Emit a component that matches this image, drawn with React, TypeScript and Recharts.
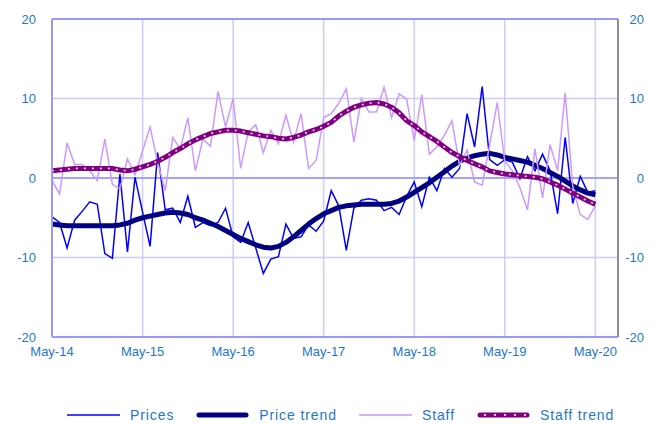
import {
  CartesianGrid,
  Line,
  LineChart,
  ReferenceLine,
  XAxis,
  YAxis,
} from "recharts";

// monthly, May-14 .. May-20 (index 0 = May-14)
const xTicks = [0, 12, 24, 36, 48, 60, 72];
const xTickLabels = ["May-14", "May-15", "May-16", "May-17", "May-18", "May-19", "May-20"];
const yTicks = [-20, -10, 0, 10, 20];

const prices = [
  -4.9, -5.6, -8.8, -5.3, -4.2, -3.0, -3.3, -9.5, -10.1, 0.5, -9.3, 0.1,
  -4.3, -8.6, 3.2, -4.0, -3.8, -5.6, -2.3, -6.2, -5.6, -6.0, -5.6, -3.8,
  -7.4, -8.1, -5.6, -8.8, -12.0, -10.2, -9.9, -5.8, -7.6, -7.4, -5.9, -6.7,
  -5.4, -1.6, -3.5, -9.1, -3.8, -2.8, -2.6, -2.8, -4.1, -3.7, -4.6, -2.3,
  -0.5, -3.6, 0.1, -1.6, 1.2, 0.1, 1.2, 8.1, 3.9, 11.5, 2.3, 1.6,
  2.3, 2.0, -0.1, 2.7, 0.9, 3.0, 0.9, -4.5, 5.1, -3.2, 0.2, -1.8,
  -1.6,
];

const priceTrend = [
  -5.8, -5.9, -6.0, -6.0, -6.0, -6.0, -6.0, -6.0, -6.0, -5.9, -5.7, -5.3,
  -5.0, -4.8, -4.6, -4.4, -4.3, -4.4, -4.6, -5.0, -5.3, -5.7, -6.1, -6.6,
  -7.1, -7.6, -8.0, -8.4, -8.7, -8.8, -8.6, -8.1, -7.4, -6.6, -5.8, -5.1,
  -4.5, -4.1, -3.7, -3.5, -3.4, -3.3, -3.3, -3.3, -3.3, -3.2, -2.9, -2.4,
  -1.8, -1.2, -0.6, 0.1, 0.8, 1.5, 2.1, 2.5, 2.8, 3.0, 3.1, 2.9,
  2.6, 2.4, 2.2, 2.0, 1.6, 1.2, 0.7, 0.2, -0.4, -1.0, -1.5, -1.9,
  -2.1,
];

const staff = [
  -0.3, -2.0, 4.4, 1.7, 1.7, 0.9, -0.3, 4.9, -0.8, -1.4, 2.4, 0.4,
  3.4, 6.4, 2.0, -1.6, 5.1, 3.7, 7.6, 0.9, 4.9, 4.0, 10.9, 6.4,
  10.0, 1.2, 5.8, 6.7, 3.2, 6.0, 4.3, 7.9, 4.5, 8.1, 1.2, 2.2,
  7.6, 8.1, 9.4, 11.2, 4.5, 10.0, 8.3, 8.3, 11.4, 7.6, 10.6, 9.9,
  4.7, 10.5, 3.0, 3.9, 5.4, 7.2, 1.6, 3.5, -0.5, -0.9, 4.2, 9.5,
  2.1, 0.9, -1.2, -4.0, 3.7, -2.5, 4.2, 0.9, 10.7, -1.0, -4.6, -5.2,
  -3.5,
];

const staffTrend = [
  0.9, 1.0, 1.1, 1.2, 1.2, 1.2, 1.2, 1.2, 1.2, 1.0, 0.9, 1.1,
  1.4, 1.7, 2.1, 2.6, 3.2, 3.7, 4.3, 4.8, 5.2, 5.6, 5.8, 6.0,
  6.0, 5.9, 5.7, 5.5, 5.3, 5.2, 5.0, 4.9, 5.1, 5.4, 5.8, 6.1,
  6.5, 7.0, 7.8, 8.4, 8.9, 9.2, 9.4, 9.5, 9.3, 8.9, 8.2, 7.2,
  6.6, 5.8, 5.2, 4.6, 3.9, 3.2, 2.7, 2.2, 1.8, 1.4, 0.9, 0.7,
  0.5, 0.4, 0.3, 0.2, 0.1, -0.1, -0.5, -0.9, -1.4, -1.9, -2.4, -2.9,
  -3.3,
];

const data = prices.map((v, i) => ({
  i,
  prices: v,
  priceTrend: priceTrend[i],
  staff: staff[i],
  staffTrend: staffTrend[i],
}));

const FONT = "'Liberation Sans', Arial, sans-serif";
const TEXT_BLUE = "#1f77cc";
const GRID = "#ccccff";
const BORDER = "#9999ff";

function renderRightTick(props: any) {
  const { x, y, payload } = props;
  return (
    <text
      key={`rt-${payload.value}`}
      x={x + 20}
      y={y}
      dy="0.355em"
      textAnchor="end"
      fill={TEXT_BLUE}
      fontSize={13}
      fontFamily={FONT}
    >
      {payload.value}
    </text>
  );
}

function LegendSwatch({ kind }: { kind: string }) {
  return (
    <svg width={53} height={10} style={{ display: "block" }}>
      {kind === "prices" && <line x1={0} y1={5} x2={53} y2={5} stroke="#0000ff" strokeWidth={1.5} />}
      {kind === "priceTrend" && (
        <line x1={3} y1={5} x2={50} y2={5} stroke="#000080" strokeWidth={5} strokeLinecap="round" />
      )}
      {kind === "staff" && <line x1={0} y1={5} x2={53} y2={5} stroke="#cc99ff" strokeWidth={1.5} />}
      {kind === "staffTrend" && (
        <>
          <line x1={3} y1={5} x2={50} y2={5} stroke="#800080" strokeWidth={5} strokeLinecap="round" />
          <line x1={7} y1={5} x2={50} y2={5} stroke="#e6c6e6" strokeWidth={1.8} strokeDasharray="2 8" />
        </>
      )}
    </svg>
  );
}

const legendItems = [
  { key: "prices", name: "Prices" },
  { key: "priceTrend", name: "Price trend" },
  { key: "staff", name: "Staff" },
  { key: "staffTrend", name: "Staff trend" },
];

export default function App() {
  return (
    <div style={{ position: "absolute", left: 0, top: 0, width: 657, height: 426, background: "#fff" }}>
      <LineChart width={657} height={426} data={data} margin={{ top: 19, right: 0, bottom: 59, left: 8 }}>
        <CartesianGrid yAxisId="left" stroke={GRID} strokeWidth={1.5} />
        <XAxis
          type="number"
          dataKey="i"
          domain={[0, 75]}
          ticks={xTicks}
          tickFormatter={(v) => xTickLabels[xTicks.indexOf(v)]}
          axisLine={{ stroke: BORDER, strokeWidth: 2 }}
          tickLine={false}
          tickMargin={4}
          height={30}
          tick={{ fill: TEXT_BLUE, fontSize: 13, fontFamily: FONT }}
          interval={0}
        />
        <YAxis
          yAxisId="left"
          domain={[-20, 20]}
          ticks={yTicks}
          width={44}
          axisLine={{ stroke: BORDER, strokeWidth: 2 }}
          tickLine={false}
          tickMargin={10}
          tick={{ fill: TEXT_BLUE, fontSize: 13, fontFamily: FONT }}
          interval={0}
        />
        <YAxis
          yAxisId="right"
          orientation="right"
          domain={[-20, 20]}
          ticks={yTicks}
          width={39}
          axisLine={{ stroke: "#8e8e9e", strokeWidth: 2 }}
          tickLine={false}
          tickMargin={0}
          tick={renderRightTick}
          interval={0}
        />
        <ReferenceLine yAxisId="left" y={20} stroke={BORDER} strokeWidth={2} />
        <ReferenceLine yAxisId="left" y={0} stroke="#a3a3ff" strokeWidth={2} />
        <Line yAxisId="left" type="linear" dataKey="prices" stroke="#0000ff" strokeWidth={1.5} dot={false} isAnimationActive={false} />
        <Line yAxisId="left" type="linear" dataKey="priceTrend" stroke="#000080" strokeWidth={5} dot={false} strokeLinejoin="round" isAnimationActive={false} />
        <Line yAxisId="left" type="linear" dataKey="staff" stroke="#cc99ff" strokeWidth={1.5} dot={false} isAnimationActive={false} />
        <Line yAxisId="left" type="linear" dataKey="staffTrend" stroke="#800080" strokeWidth={5} dot={false} strokeLinejoin="round" isAnimationActive={false} />
        <Line yAxisId="right" type="linear" dataKey="staffTrend" stroke="#e6c6e6" strokeWidth={1.8} strokeDasharray="2 6" dot={false} legendType="none" isAnimationActive={false} />
      </LineChart>
      <div
        style={{
          position: "absolute",
          left: 67,
          top: 406,
          display: "flex",
          alignItems: "center",
          fontFamily: FONT,
          fontSize: 14,
          letterSpacing: 0.9,
          color: TEXT_BLUE,
        }}
      >
        {legendItems.map((item) => (
          <div key={item.key} style={{ display: "flex", alignItems: "center", marginRight: 22 }}>
            <LegendSwatch kind={item.key} />
            <span style={{ marginLeft: 10, lineHeight: "18px" }}>{item.name}</span>
          </div>
        ))}
      </div>
    </div>
  );
}
